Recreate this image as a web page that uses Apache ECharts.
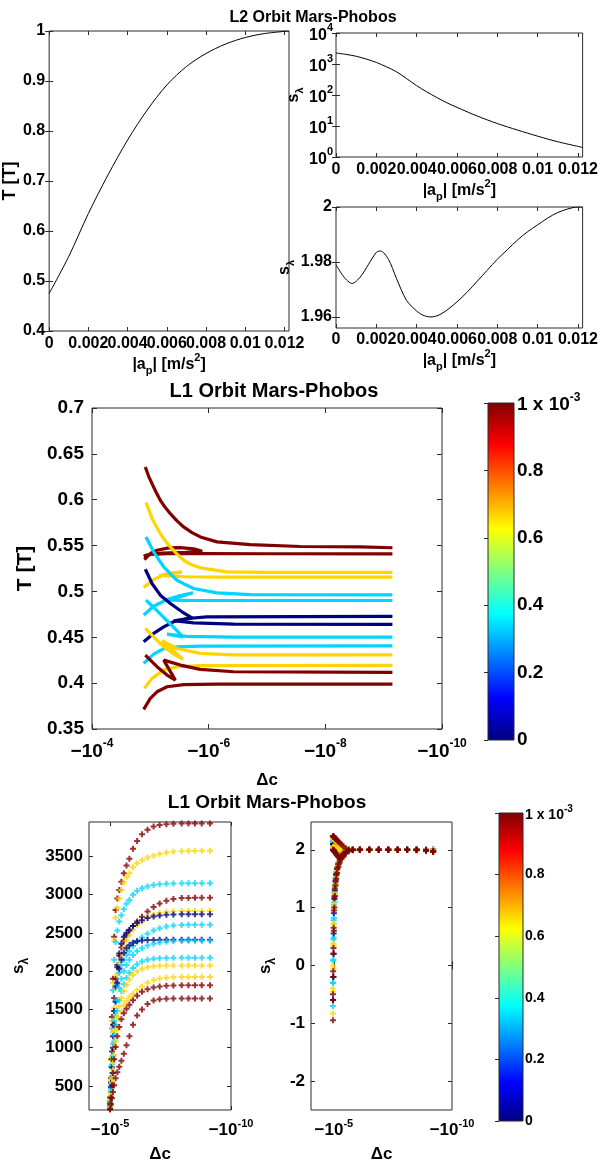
<!DOCTYPE html>
<html>
<head>
<meta charset="utf-8">
<script src="https://cdn.jsdelivr.net/npm/echarts@6.0.0/dist/echarts.min.js"></script>
<style>
html,body{margin:0;padding:0;background:#ffffff;}
#chart{width:601px;height:1164px;}
</style>
</head>
<body>
<div id="chart"></div>
<script>
// ================= DATA =================
// --- L2 orbit Mars-Phobos (top panels), x = |a_p| [m/s^2]
const apL2 = [0, 0.001, 0.002, 0.003, 0.004, 0.005, 0.006, 0.007, 0.008, 0.009, 0.010, 0.011, 0.01223];
const periodL2 = [0.475, 0.549, 0.635, 0.712, 0.782, 0.842, 0.892, 0.929, 0.955, 0.974, 0.987, 0.995, 1.0];
const apL2s = [0, 0.0005, 0.001, 0.0015, 0.002, 0.0025, 0.003, 0.0035, 0.004, 0.0045, 0.005, 0.0055, 0.006, 0.007, 0.008, 0.009, 0.010, 0.011, 0.01223];
const stabL2 = [2265, 2040, 1778, 1445, 1122, 813, 562, 339, 200, 126, 83, 56, 40, 21, 12, 7.4, 4.7, 3.1, 2.04];
const apL2b = [0, 0.0004, 0.0008, 0.0012, 0.0016, 0.002, 0.0022, 0.0026, 0.003, 0.0035, 0.004, 0.0043, 0.0047, 0.0051, 0.0055, 0.006, 0.0065, 0.007, 0.0075, 0.008, 0.0085, 0.009, 0.0095, 0.010, 0.0105, 0.011, 0.0115, 0.012, 0.01223];
const stabL2b = [1.979, 1.9745, 1.9722, 1.9745, 1.979, 1.9835, 1.984, 1.981, 1.974, 1.966, 1.9622, 1.9607, 1.960, 1.9607, 1.9625, 1.9655, 1.969, 1.973, 1.977, 1.981, 1.9845, 1.988, 1.991, 1.9935, 1.996, 1.998, 1.9993, 2.0, 2.0];

// --- L1 orbit Mars-Phobos (middle panel): log10|Δc| and period T, colour parameter (x 1e-3)
const l1Param = [1, 1, 0.667, 0.667, 0.333, 0.333, 0, 0, 0.333, 0.333, 0.667, 0.667, 1, 1];
const l1LogDc = [
  [-4.914,-4.971,-5.029,-5.097,-5.171,-5.257,-5.343,-5.457,-5.571,-5.714,-5.857,-6.143,-6.714,-7.571,-8.6,-9.15],
  [-4.897,-5.0,-5.114,-5.314,-5.514,-5.743,-5.89,-5.6,-5.2,-4.95,-4.886,-5.0,-5.3,-6.0,-7.0,-9.15],
  [-4.926,-4.98,-5.029,-5.1,-5.171,-5.25,-5.343,-5.45,-5.571,-5.7,-5.857,-6.314,-7.0,-9.15],
  [-4.886,-5.057,-5.229,-5.4,-5.543,-5.35,-5.15,-5.3,-5.6,-6.2,-9.15],
  [-4.926,-4.99,-5.057,-5.14,-5.229,-5.34,-5.457,-5.6,-5.743,-6.143,-6.714,-9.15],
  [-4.886,-5.057,-5.286,-5.514,-5.731,-5.457,-5.286,-5.629,-6.143,-9.15],
  [-4.914,-5.029,-5.171,-5.343,-5.543,-5.72,-5.4,-5.743,-6.429,-9.15],
  [-4.886,-5.057,-5.229,-5.4,-5.629,-5.971,-9.15],
  [-4.926,-5.057,-5.229,-5.4,-5.56,-5.286,-5.629,-6.429,-9.15],
  [-4.886,-5.057,-5.229,-5.457,-5.857,-9.15],
  [-4.914,-5.057,-5.229,-5.4,-5.56,-5.2,-5.457,-5.857,-6.429,-9.15],
  [-4.897,-5.029,-5.229,-5.457,-5.857,-9.15],
  [-4.914,-5.114,-5.286,-5.429,-5.229,-5.514,-5.857,-6.429,-9.15],
  [-4.886,-5.0,-5.114,-5.286,-5.571,-6.143,-9.15]
];
const l1Period = [
  [0.6357,0.6255,0.6175,0.6084,0.5994,0.5914,0.5848,0.5769,0.5703,0.5642,0.5594,0.554,0.5511,0.549,0.5486,0.5476],
  [0.5348,0.5413,0.5449,0.5475,0.5478,0.5464,0.5438,0.5425,0.5418,0.540,0.5384,0.5405,0.5412,0.5412,0.5411,0.5409],
  [0.5968,0.5881,0.5794,0.5711,0.5631,0.5558,0.5485,0.5413,0.534,0.5293,0.5257,0.5213,0.5208,0.5207],
  [0.5043,0.513,0.5181,0.5206,0.521,0.519,0.5175,0.5168,0.516,0.5157,0.5155],
  [0.5594,0.5515,0.5431,0.5351,0.5268,0.5195,0.5122,0.5075,0.5032,0.4985,0.4966,0.4963],
  [0.4741,0.4839,0.4912,0.4955,0.4985,0.493,0.4905,0.4903,0.4901,0.4901],
  [0.5242,0.5086,0.4959,0.4868,0.4778,0.4709,0.468,0.4658,0.4643,0.464],
  [0.4451,0.4542,0.4614,0.4669,0.4705,0.4723,0.4727],
  [0.4905,0.4825,0.4716,0.4607,0.4505,0.4534,0.4509,0.4502,0.4502],
  [0.4215,0.4317,0.4375,0.4396,0.4404,0.4407],
  [0.4596,0.4505,0.4396,0.4317,0.4259,0.4462,0.4378,0.4324,0.4309,0.4309],
  [0.3943,0.4052,0.4142,0.4179,0.419,0.4193],
  [0.4306,0.4179,0.4088,0.4033,0.4251,0.4197,0.415,0.4124,0.4117],
  [0.3714,0.3834,0.3906,0.3961,0.3983,0.399,0.399]
];

// --- L1 orbit Mars-Phobos (bottom-left panel): s_lambda vs log10|Δc|
const sweepLogDc = [-5.0,-5.04,-5.08,-5.12,-5.17,-5.23,-5.3,-5.38,-5.47,-5.57,-5.68,-5.8,-5.95,-6.12,-6.32,-6.55,-6.8,-7.05,-7.33,-7.62,-7.96,-8.24,-8.51,-8.79,-9.13];
const sweepParam = [1, 0.667, 0.333, 1, 0.667, 0, 0.333, 0, 0.333, 0.333, 0.667, 0.667, 1, 1];
const sweepS = [
  [350,850,1400,1900,2450,2800,2950,3060,3170,3280,3380,3470,3600,3700,3790,3850,3890,3910,3922,3928,3931,3932,3932,3932,3932],
  [320,850,1350,1850,2400,2700,2830,2950,3060,3160,3230,3280,3360,3410,3450,3485,3510,3533,3550,3560,3566,3570,3572,3573,3573],
  [300,750,1250,1750,2150,2380,2530,2650,2730,2810,2880,2930,3000,3050,3085,3108,3125,3135,3142,3146,3149,3150,3150,3150,3150],
  [280,600,950,1300,1650,1900,2080,2200,2310,2400,2470,2530,2590,2650,2710,2780,2840,2885,2920,2945,2955,2958,2960,2960,2960],
  [270,560,880,1200,1520,1780,1960,2100,2220,2320,2400,2470,2540,2600,2650,2700,2735,2760,2775,2782,2786,2787,2788,2788,2788],
  [260,540,850,1150,1480,1800,2050,2230,2360,2450,2500,2540,2590,2630,2665,2695,2715,2728,2737,2741,2743,2744,2744,2744,2744],
  [250,500,780,1050,1350,1620,1830,1980,2080,2150,2210,2260,2330,2390,2440,2490,2530,2560,2585,2598,2604,2606,2606,2606,2606],
  [240,480,740,1000,1300,1600,1850,2030,2150,2240,2300,2340,2370,2390,2400,2406,2409,2411,2412,2412,2412,2412,2412,2412,2412],
  [235,440,670,900,1170,1420,1620,1780,1900,2000,2080,2150,2210,2260,2300,2335,2360,2376,2386,2392,2395,2397,2397,2397,2397],
  [225,420,630,850,1080,1300,1480,1620,1740,1830,1910,1980,2040,2090,2125,2148,2162,2169,2172,2174,2174,2174,2174,2174,2174],
  [220,400,600,800,1020,1230,1400,1540,1650,1740,1820,1890,1950,1995,2030,2052,2065,2071,2074,2075,2075,2075,2075,2075,2075],
  [210,370,540,710,900,1080,1240,1370,1470,1550,1610,1660,1700,1750,1800,1850,1885,1903,1914,1920,1923,1924,1924,1924,1924],
  [200,350,510,670,850,1010,1150,1270,1370,1450,1510,1560,1620,1680,1730,1765,1788,1800,1808,1813,1815,1816,1816,1816,1816],
  [190,260,340,420,510,600,680,750,830,920,1030,1150,1300,1420,1500,1570,1615,1632,1639,1642,1643,1643,1643,1643,1643]
];

// --- L1 orbit Mars-Phobos (bottom-right panel): second s_lambda vs log10|Δc|
const sweepLogDcR = [-4.96,-4.97,-4.98,-4.99,-5.0,-5.02,-5.04,-5.07,-5.1,-5.14,-5.19,-5.25,-5.32,-5.4,-5.5,-5.62,-5.8,-6.1,-6.5,-6.9,-7.3,-7.7,-8.1,-8.5,-8.9,-9.2];
const sweepParamR = [0.333, 0.333, 0.333, 0.333, 0, 0, 0.667, 0.667, 0.667, 0.667, 1, 1, 1, 1];
const sweepSR = [
  [-0.7,-0.3,0.1,0.48,0.82,1.1,1.27,1.42,1.55,1.65,1.74,1.81,1.88,1.93,1.96,1.99,2.0,2.0,2.0,2.0,2.0,2.0,2.0,2.0,2.0,1.99],
  [-0.3,0.08,0.45,0.78,1.05,1.25,1.39,1.51,1.62,1.71,1.78,1.85,1.9,1.95,1.98,1.99,2.0,2.0,2.0,2.0,2.0,2.0,2.0,2.0,2.0,1.99],
  [2.15,2.147,2.144,2.14,2.137,2.13,2.12,2.11,2.1,2.09,2.07,2.06,2.04,2.02,2.01,2.0,2.0,2.0,2.0,2.0,2.0,2.0,2.0,2.0,2.0,2.0],
  [2.0,2.0,2.0,1.99,1.99,1.98,1.97,1.96,1.95,1.94,1.93,1.93,1.94,1.96,1.98,1.99,2.0,2.0,2.0,2.0,2.0,2.0,2.0,2.0,2.0,1.99],
  [-0.6,-0.2,0.2,0.55,0.9,1.15,1.3,1.45,1.57,1.67,1.75,1.82,1.89,1.93,1.97,1.99,2.0,2.0,2.0,2.0,2.0,2.0,2.0,2.0,2.0,2.0],
  [2.1,2.098,2.096,2.094,2.092,2.088,2.082,2.075,2.07,2.06,2.05,2.04,2.03,2.02,2.01,2.0,2.0,2.0,2.0,2.0,2.0,2.0,2.0,2.0,2.0,2.0],
  [-0.83,-0.45,-0.05,0.35,0.72,1.06,1.24,1.4,1.52,1.63,1.72,1.8,1.87,1.92,1.96,1.98,2.0,2.0,2.0,2.0,2.0,2.0,2.0,2.0,1.99,1.98],
  [-0.4,0.0,0.38,0.72,1.0,1.22,1.36,1.49,1.6,1.7,1.77,1.84,1.9,1.94,1.97,1.99,2.0,2.0,2.0,2.0,2.0,2.0,2.0,2.0,2.0,1.98],
  [2.2,2.195,2.19,2.185,2.18,2.17,2.16,2.15,2.14,2.12,2.1,2.08,2.06,2.04,2.01,2.0,2.0,2.0,2.0,2.0,2.0,2.0,2.0,2.0,2.0,1.99],
  [2.05,2.048,2.046,2.044,2.04,2.035,2.03,2.025,2.02,2.015,2.01,2.005,2.0,2.0,2.0,2.0,2.0,2.0,2.0,2.0,2.0,2.0,2.0,2.0,2.0,1.99],
  [-0.95,-0.6,-0.2,0.2,0.6,1.0,1.2,1.38,1.5,1.6,1.7,1.78,1.85,1.91,1.95,1.98,1.99,2.0,2.0,2.0,2.0,2.0,2.0,1.99,1.98,1.97],
  [-0.5,-0.1,0.3,0.65,0.95,1.18,1.33,1.47,1.58,1.68,1.76,1.83,1.89,1.94,1.97,1.99,2.0,2.0,2.0,2.0,2.0,2.0,2.0,2.0,1.99,1.96],
  [2.0,2.0,1.99,1.99,1.98,1.97,1.96,1.94,1.92,1.9,1.88,1.86,1.86,1.88,1.93,1.98,2.0,2.0,2.0,2.0,2.0,2.0,2.0,2.0,1.99,1.97],
  [2.24,2.235,2.23,2.225,2.22,2.21,2.2,2.19,2.18,2.16,2.14,2.12,2.09,2.06,2.02,2.0,2.0,2.0,2.0,2.0,2.0,2.0,2.0,2.0,1.99,1.98]
];

// --- tick values
const ticksTopX = [0, 0.002, 0.004, 0.006, 0.008, 0.01, 0.012];
const ticksTopLeftY = [0.4, 0.5, 0.6, 0.7, 0.8, 0.9, 1];
const ticksLogY = [1, 10, 100, 1000, 10000];
const ticksS2Y = [1.96, 1.98, 2];
const ticksMidY = [0.35, 0.4, 0.45, 0.5, 0.55, 0.6, 0.65, 0.7];
const ticksMidX = [1e-4, 1e-6, 1e-8, 1e-10];
const ticksBotX = [1e-5, 1e-10];
const ticksBotLY = [500, 1000, 1500, 2000, 2500, 3000, 3500];
const ticksBotRY = [-2, -1, 0, 1, 2];
const ticksBar = [0, 0.2, 0.4, 0.6, 0.8, 1];

// ================= STYLE / BUILD =================
const FONT = '"Liberation Sans", Arial, Helvetica, sans-serif';
const BORDER = '#2a2a2a';
function jet(p) {
  const c = t => Math.round(255 * Math.max(0, Math.min(1, t)));
  return 'rgb(' + c(1.5 - Math.abs(4 * p - 3)) + ',' + c(1.5 - Math.abs(4 * p - 2)) + ',' + c(1.5 - Math.abs(4 * p - 1)) + ')';
}
const PLUS = 'path://M2,0L4,0L4,2L6,2L6,4L4,4L4,6L2,6L2,4L0,4L0,2L2,2Z';

function richSet(fs, sfs, raise) {
  return {
    b: {fontSize: fs, fontWeight: 'bold', fontFamily: FONT, color: '#000', verticalAlign: 'bottom'},
    s: {fontSize: sfs, fontWeight: 'bold', fontFamily: FONT, color: '#000', verticalAlign: 'bottom', padding: [0, 0, raise, 0]}
  };
}
function nameRich(fs) {
  return {
    b: {fontSize: fs, fontWeight: 'bold', fontFamily: FONT, color: '#000', verticalAlign: 'bottom', padding: [0, 0, 4, 0]},
    sub: {fontSize: Math.round(fs * 0.7), fontWeight: 'bold', fontFamily: FONT, color: '#000', verticalAlign: 'bottom'},
    sup: {fontSize: Math.round(fs * 0.7), fontWeight: 'bold', fontFamily: FONT, color: '#000', verticalAlign: 'bottom', padding: [0, 0, 13, 0]}
  };
}

const grids = [], xAxes = [], yAxes = [], series = [];
function addGrid(g, bg) {
  grids.push(Object.assign({show: true, borderColor: BORDER, borderWidth: 1, backgroundColor: bg || '#fff'}, g));
  return grids.length - 1;
}
function axis(dim, gi, o, mirror) {
  const a = {
    type: o.type || 'value', gridIndex: gi, min: o.min, max: o.max, inverse: !!o.inverse,
    position: dim === 'x' ? (mirror ? 'top' : 'bottom') : (mirror ? 'right' : 'left'),
    axisLine: {show: false}, splitLine: {show: false},
    axisTick: {show: true, inside: true, length: o.tickLen || 4, customValues: o.ticks, lineStyle: {color: BORDER, width: 1}},
    axisLabel: {show: !mirror, customValues: o.ticks, formatter: o.fmt || (v => String(v)), margin: o.margin == null ? 6 : o.margin,
      color: '#000', fontFamily: FONT, fontWeight: 'bold', fontSize: o.fs || 16, rich: o.rich},
    silent: true
  };
  if (a.type === 'log') a.logBase = 10;
  if (!mirror && o.name) {
    a.name = o.name; a.nameLocation = 'middle'; a.nameGap = o.nameGap;
    a.nameTextStyle = {color: '#000', fontFamily: FONT, fontWeight: 'bold', fontSize: o.nfs || 16, rich: o.nameRich};
  }
  return a;
}
function addAxes(gi, xo, yo) {
  xAxes.push(axis('x', gi, xo, false)); const xi = xAxes.length - 1;
  xAxes.push(axis('x', gi, xo, true));
  yAxes.push(axis('y', gi, yo, false)); const yi = yAxes.length - 1;
  yAxes.push(axis('y', gi, yo, true));
  return [xi, yi];
}
const apName = '{b||a}{sub|p}{b|| [m/s}{sup|2}{b|]}';
const sName = '{b|s}{sub|λ}';
const logFmt = v => '{b|10}{s|' + Math.round(Math.log10(v)) + '}';
const negLogFmt = v => '{b|\u221210}{s|' + Math.round(Math.log10(v)) + '}';
const blackLine = {showSymbol: false, smooth: 0.3, lineStyle: {color: '#000', width: 1}, silent: true};

// ---- top-left: T vs |a_p|
let g = addGrid({left: 44, top: 31, width: 245, height: 300});
let [xi, yi] = addAxes(g,
  {min: 0, max: 0.01223, ticks: ticksTopX, margin: 5, name: apName, nameGap: 17, nameRich: nameRich(16)},
  {min: 0.4, max: 1, ticks: ticksTopLeftY, margin: 4, name: 'T [T]', nameGap: 17, nfs: 18});
series.push(Object.assign({type: 'line', xAxisIndex: xi, yAxisIndex: yi, data: apL2.map((a, i) => [a, periodL2[i]])}, blackLine));

// ---- top-right 1: s_lambda (log) vs |a_p|
g = addGrid({left: 336, top: 33, width: 247, height: 124});
[xi, yi] = addAxes(g,
  {min: 0, max: 0.01223, ticks: ticksTopX, margin: 5, name: apName, nameGap: 17, nameRich: nameRich(16)},
  {type: 'log', min: 1, max: 10000, ticks: ticksLogY, margin: 3, fmt: logFmt, rich: richSet(16, 11, 10),
   name: sName, nameGap: 26, nameRich: nameRich(16)});
series.push(Object.assign({type: 'line', xAxisIndex: xi, yAxisIndex: yi, data: apL2s.map((a, i) => [a, stabL2[i]])}, blackLine));

// ---- top-right 2: s_lambda vs |a_p|
g = addGrid({left: 336, top: 207, width: 247, height: 121});
[xi, yi] = addAxes(g,
  {min: 0, max: 0.01223, ticks: ticksTopX, margin: 4, name: apName, nameGap: 18, nameRich: nameRich(16)},
  {min: 1.956, max: 2, ticks: ticksS2Y, margin: 4, name: sName, nameGap: 29, nameRich: nameRich(16)});
series.push(Object.assign({type: 'line', xAxisIndex: xi, yAxisIndex: yi, data: apL2b.map((a, i) => [a, stabL2b[i]])}, blackLine));

// ---- middle: T vs Δc
g = addGrid({left: 92, top: 408, width: 350, height: 321});
[xi, yi] = addAxes(g,
  {type: 'log', min: 1e-10, max: 1e-4, inverse: true, ticks: ticksMidX, margin: 9, fmt: negLogFmt, rich: richSet(19, 12, 11),
   name: 'Δc', nameGap: 43, nfs: 17, tickLen: 5},
  {min: 0.35, max: 0.7, ticks: ticksMidY, margin: 8, fs: 19, name: 'T [T]', nameGap: 52, nfs: 21, tickLen: 5});
l1LogDc.forEach((xs, k) => {
  series.push({type: 'line', xAxisIndex: xi, yAxisIndex: yi,
    data: xs.map((e, i) => [Math.pow(10, e), l1Period[k][i]]),
    showSymbol: false, lineStyle: {color: jet(l1Param[k]), width: 3.2}, silent: true});
});

// ---- colour bars
const jetGrad = {type: 'linear', x: 0, y: 0, x2: 0, y2: 1, colorStops: [
  {offset: 0, color: jet(1)}, {offset: 0.125, color: jet(0.875)}, {offset: 0.375, color: jet(0.625)},
  {offset: 0.625, color: jet(0.375)}, {offset: 0.875, color: jet(0.125)}, {offset: 1, color: jet(0)}]};
function addBar(box, fs, sfs, raise, margin) {
  const gi = addGrid(box, jetGrad);
  xAxes.push({type: 'value', gridIndex: gi, min: 0, max: 1, show: false});
  yAxes.push({type: 'value', gridIndex: gi, min: 0, max: 1, position: 'right',
    axisLine: {show: false}, splitLine: {show: false},
    axisTick: {show: true, inside: true, length: 4, customValues: ticksBar, lineStyle: {color: BORDER}},
    axisLabel: {customValues: ticksBar, margin: margin, color: '#000', fontFamily: FONT, fontWeight: 'bold', fontSize: fs,
      formatter: v => v === 1 ? '{b|1 x 10}{s|-3}' : String(v), rich: richSet(fs, sfs, raise)}});
}
addBar({left: 488, top: 403, width: 26, height: 337}, 19, 12, 11, 3);

// ---- bottom-left: s_lambda vs Δc
g = addGrid({left: 89, top: 822, width: 142, height: 290});
[xi, yi] = addAxes(g,
  {type: 'log', min: 1e-10, max: 7.41e-5, inverse: true, ticks: ticksBotX, margin: 8, fmt: negLogFmt, rich: richSet(17, 11, 10),
   name: 'Δc', nameGap: 36, nfs: 17},
  {min: 185, max: 3950, ticks: ticksBotLY, margin: 6, fs: 17, name: sName, nameGap: 58, nameRich: nameRich(17)});
sweepS.forEach((vals, k) => {
  series.push({type: 'scatter', xAxisIndex: xi, yAxisIndex: yi, symbol: PLUS, symbolSize: 6,
    itemStyle: {color: jet(sweepParam[k])}, silent: true,
    data: vals.map((s, i) => [Math.pow(10, sweepLogDc[i]), s])});
});

// ---- bottom-right: s_lambda vs Δc
g = addGrid({left: 311, top: 822, width: 141, height: 290});
[xi, yi] = addAxes(g,
  {type: 'log', min: 1e-10, max: 9.33e-5, inverse: true, ticks: ticksBotX, margin: 8, fmt: negLogFmt, rich: richSet(17, 11, 10),
   name: 'Δc', nameGap: 36, nfs: 17},
  {min: -2.5, max: 2.48, ticks: ticksBotRY, margin: 6, fs: 17, name: sName, nameGap: 33, nameRich: nameRich(17)});
sweepSR.forEach((vals, k) => {
  series.push({type: 'scatter', xAxisIndex: xi, yAxisIndex: yi, symbol: PLUS, symbolSize: 6,
    itemStyle: {color: jet(sweepParamR[k])}, silent: true,
    data: vals.map((s, i) => [Math.pow(10, sweepLogDcR[i]), s])});
});

addBar({left: 499, top: 813, width: 24, height: 308}, 14, 10, 8, 2);

const titles = [
  {text: 'L2 Orbit Mars-Phobos', x: 313, y: 18, fs: 16},
  {text: 'L1 Orbit Mars-Phobos', x: 274, y: 391, fs: 20},
  {text: 'L1 Orbit Mars-Phobos', x: 267, y: 803, fs: 19}
];

const chart = echarts.init(document.getElementById('chart'), null, {renderer: 'canvas'});
chart.setOption({
  animation: false,
  backgroundColor: '#ffffff',
  textStyle: {fontFamily: FONT},
  grid: grids, xAxis: xAxes, yAxis: yAxes, series: series,
  graphic: titles.map(t => ({type: 'text', x: t.x, y: t.y, silent: true,
    style: {text: t.text, fill: '#000', font: 'bold ' + t.fs + 'px ' + FONT, align: 'center', verticalAlign: 'middle'}}))
});
</script>
</body>
</html>
